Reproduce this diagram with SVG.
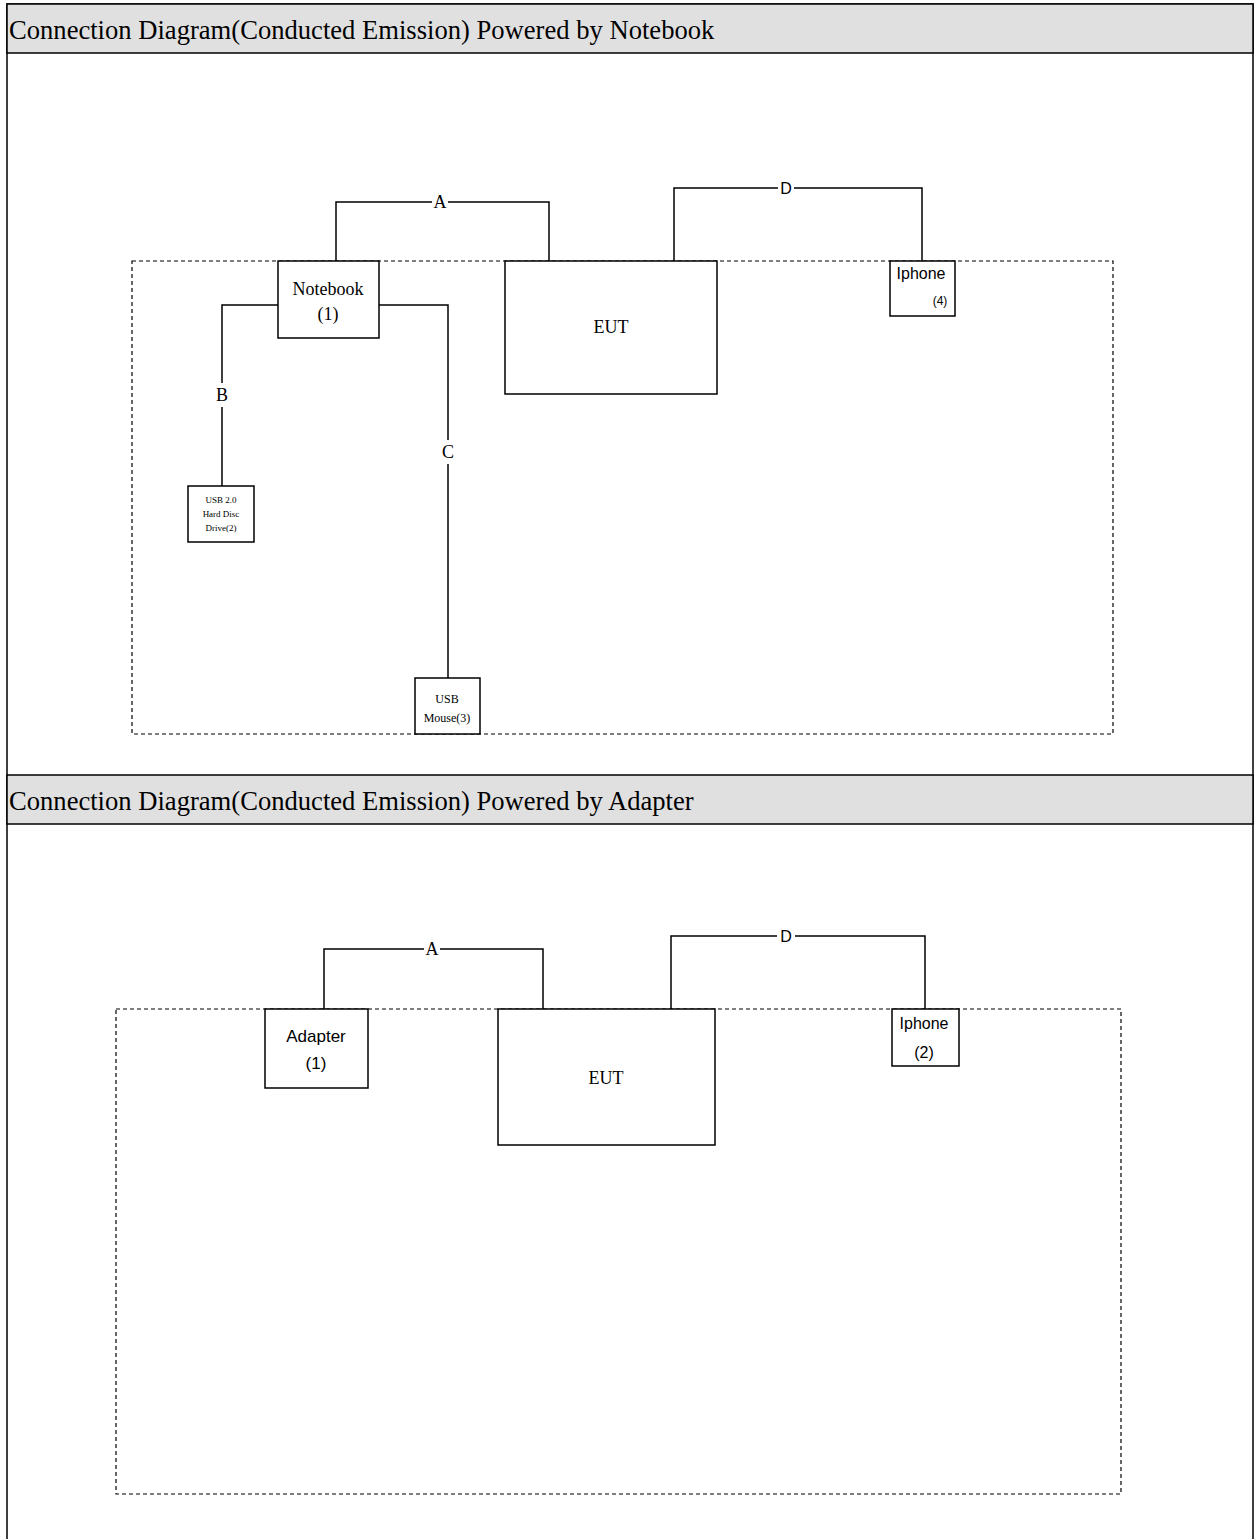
<svg xmlns="http://www.w3.org/2000/svg" width="1255" height="1539" viewBox="0 0 1255 1539">
<style>
.hdr{fill:#e0e0e0;stroke:#000;stroke-width:1.5}
.tt{font-family:"Liberation Serif",serif;font-size:26.6px;fill:#000}
.box{fill:#fff;stroke:#000;stroke-width:1.5}
.dash{fill:none;stroke:#000;stroke-width:1.2;stroke-dasharray:4,3}
.ln{fill:none;stroke:#000;stroke-width:1.5}
.ser{font-family:"Liberation Serif",serif;fill:#000;text-anchor:middle}
.san{font-family:"Liberation Sans",sans-serif;fill:#000;text-anchor:middle}
.lbl{fill:#fff}
</style>
<rect x="0" y="0" width="1255" height="1539" fill="#fff"/>
<g id="table">
<rect x="7" y="4" width="1246" height="1540" fill="none" stroke="#000" stroke-width="1.5"/>
<rect class="hdr" x="7" y="4" width="1246" height="49"/>
<text class="tt" x="9" y="39">Connection Diagram(Conducted Emission) Powered by Notebook</text>
<rect class="hdr" x="7" y="775" width="1246" height="49"/>
<text class="tt" x="9" y="810">Connection Diagram(Conducted Emission) Powered by Adapter</text>
</g>
<rect class="dash" x="132" y="261" width="981" height="473"/>
<rect class="dash" x="116" y="1009" width="1005" height="485"/>
<g id="connectors">
<path class="ln" d="M336 261V202H549V261"/>
<rect class="lbl" x="432" y="192" width="16" height="20"/>
<text class="ser" x="440" y="208" font-size="18">A</text>
<path class="ln" d="M674 261V188H922V261"/>
<rect class="lbl" x="778" y="178" width="16" height="20"/>
<text class="san" x="786" y="194" font-size="16">D</text>
<path class="ln" d="M278 305H222V486"/>
<rect class="lbl" x="212" y="383" width="20" height="24"/>
<text class="ser" x="222" y="401" font-size="18">B</text>
<path class="ln" d="M379 305H448V678" stroke="#333"/>
<rect class="lbl" x="438" y="440" width="20" height="24"/>
<text class="ser" x="448" y="458" font-size="18">C</text>
<path class="ln" d="M324 1009V949H543V1009"/>
<rect class="lbl" x="424" y="939" width="16" height="20"/>
<text class="ser" x="432" y="955" font-size="18">A</text>
<path class="ln" d="M671 1009V936H925V1009"/>
<rect class="lbl" x="777" y="926" width="18" height="20"/>
<text class="san" x="786" y="942" font-size="16">D</text>
</g>
<g id="notebook">
<rect class="box" x="278" y="261" width="101" height="77"/>
<text class="ser" x="328" y="295" font-size="18">Notebook</text>
<text class="ser" x="328" y="320" font-size="18">(1)</text>
</g>
<g id="eut1">
<rect class="box" x="505" y="261" width="212" height="133"/>
<text class="ser" x="611" y="333" font-size="18">EUT</text>
</g>
<g id="iphone1">
<rect class="box" x="890" y="261" width="65" height="55"/>
<text class="san" x="921" y="279" font-size="16">Iphone</text>
<text class="san" x="940" y="305" font-size="12">(4)</text>
</g>
<g id="hdd">
<rect class="box" x="188" y="486" width="66" height="56"/>
<text class="ser" x="221" y="503" font-size="9">USB 2.0</text>
<text class="ser" x="221" y="517" font-size="9">Hard Disc</text>
<text class="ser" x="221" y="531" font-size="9">Drive(2)</text>
</g>
<g id="mouse">
<rect class="box" x="415" y="678" width="65" height="56"/>
<text class="ser" x="447" y="703" font-size="12">USB</text>
<text class="ser" x="447" y="722" font-size="12">Mouse(3)</text>
</g>
<g id="adapter">
<rect class="box" x="265" y="1009" width="103" height="79"/>
<text class="san" x="316" y="1042" font-size="17">Adapter</text>
<text class="san" x="316" y="1069" font-size="17">(1)</text>
</g>
<g id="eut2">
<rect class="box" x="498" y="1009" width="217" height="136"/>
<text class="ser" x="606" y="1084" font-size="18">EUT</text>
</g>
<g id="iphone2">
<rect class="box" x="892" y="1009" width="67" height="57"/>
<text class="san" x="924" y="1029" font-size="16">Iphone</text>
<text class="san" x="924" y="1058" font-size="16">(2)</text>
</g>
</svg>
